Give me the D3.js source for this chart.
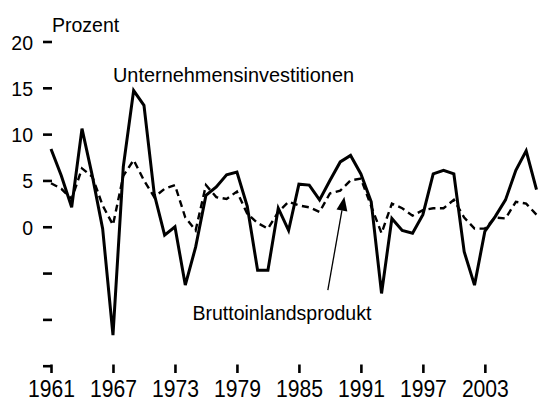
<!DOCTYPE html>
<html>
<head>
<meta charset="utf-8">
<script src="https://cdn.jsdelivr.net/npm/d3@7"></script>
<style>
  html, body { margin: 0; padding: 0; background: #fff; }
  svg { display: block; }
</style>
</head>
<body>
<svg id="chart" width="539" height="401"></svg>
<script>
const years = d3.range(1961, 2009);
const investment = [8.4, 5.5, 2.1, 10.6, 5.5, -0.2, -11.7, 6.5, 14.7, 13.1,
  3.5, -0.9, 0.0, -6.3, -2.2, 3.4, 4.3, 5.6, 5.9, 2.2,
  -4.7, -4.7, 2.0, -0.4, 4.6, 4.5, 2.9, 5.0, 7.0, 7.7,
  5.7, 2.7, -7.2, 0.9, -0.4, -0.7, 1.3, 5.7, 6.1, 5.7,
  -2.7, -6.3, -0.5, 1.1, 2.9, 6.1, 8.2, 4.0];
const gdp = [4.7, 4.1, 3.0, 6.3, 5.4, 2.3, 0.2, 5.5, 7.2, 5.0,
  3.2, 4.1, 4.5, 1.0, -0.4, 4.5, 3.2, 3.0, 3.8, 1.4,
  0.4, -0.2, 1.6, 2.7, 2.3, 2.1, 1.6, 3.6, 3.9, 5.0,
  5.2, 2.2, -0.7, 2.5, 2.0, 1.2, 1.8, 2.0, 2.0, 2.9,
  1.0, -0.2, -0.2, 1.0, 0.9, 2.7, 2.5, 1.3];
const xTickYears = [1961, 1967, 1973, 1979, 1985, 1991, 1997, 2003];
const yTickValues = [-15, -10, -5, 0, 5, 10, 15, 20];
const yTickLabels = ["", "", "", "0", "5", "10", "15", "20"];
const unitLabel = "Prozent";
const seriesLabels = ["Unternehmensinvestitionen", "Bruttoinlandsprodukt"];

const svg = d3.select("#chart");
const x = d3.scaleLinear().domain([1961, 2008]).range([51, 536.5]);
const y = d3.scaleLinear().domain([-15, 20]).range([365.7, 41.5]);

// Y axis (ticks only, no domain line)
const yAxis = svg.append("g")
  .attr("transform", "translate(52,0)")
  .call(d3.axisLeft(y).tickValues(yTickValues).tickSize(9).tickPadding(10)
    .tickFormat((d, i) => yTickLabels[i]));
yAxis.select(".domain").remove();
yAxis.selectAll(".tick line").attr("stroke", "#000").attr("stroke-width", 2.6);
yAxis.selectAll(".tick text")
  .attr("fill", "#000")
  .attr("dy", null).attr("y", 7.5)
  .style("font-family", "'Liberation Sans', Arial, sans-serif")
  .style("font-size", "19.5px");

// X axis (ticks only)
const xAxis = svg.append("g")
  .attr("transform", "translate(0,364.5)")
  .call(d3.axisBottom(x).tickValues(xTickYears).tickSize(8.5).tickFormat(d3.format("d")));
xAxis.select(".domain").remove();
xAxis.selectAll(".tick line").attr("stroke", "#000").attr("stroke-width", 2.6);
xAxis.selectAll(".tick text")
  .attr("fill", "#000")
  .attr("dy", null).attr("y", 32.5)
  .attr("transform", "scale(0.88,1)")
  .style("font-family", "'Liberation Sans', Arial, sans-serif")
  .style("font-size", "24px");

const line = d3.line().x(d => x(d[0])).y(d => y(d[1]));

svg.append("path")
  .datum(years.map((yr, i) => [yr, gdp[i]]))
  .attr("fill", "none").attr("stroke", "#000")
  .attr("stroke-width", 2.4).attr("stroke-dasharray", "7,4.5")
  .attr("d", line);

svg.append("path")
  .datum(years.map((yr, i) => [yr, investment[i]]))
  .attr("fill", "none").attr("stroke", "#000")
  .attr("stroke-width", 3).attr("stroke-linejoin", "miter")
  .attr("d", line);

const textStyle = (sel, size) => sel
  .attr("fill", "#000")
  .style("font-family", "'Liberation Sans', Arial, sans-serif")
  .style("font-size", size + "px");

svg.append("text").attr("x", 52).attr("y", 32).text(unitLabel).call(textStyle, 19.5);
svg.append("text").attr("x", 113).attr("y", 81.5).text(seriesLabels[0]).call(textStyle, 19.9);
svg.append("text").attr("x", 192.5).attr("y", 320).text(seriesLabels[1]).call(textStyle, 19.5);

// Arrow pointing to GDP line (in data units)
const arrowTail = [1987.8, -6.85];
const arrowTip = [1989.4, 3.25];
const x1 = x(arrowTail[0]), y1 = y(arrowTail[1]);
const x2 = x(arrowTip[0]), y2 = y(arrowTip[1]);
const ang = Math.atan2(y2 - y1, x2 - x1);
const headLen = 14, headHalf = 5.5;
const bx = x2 - headLen * Math.cos(ang), by = y2 - headLen * Math.sin(ang);
svg.append("line")
  .attr("x1", x1).attr("y1", y1).attr("x2", bx).attr("y2", by)
  .attr("stroke", "#000").attr("stroke-width", 1.3);
svg.append("path")
  .attr("d", d3.line()([
    [x2, y2],
    [bx + headHalf * Math.sin(ang), by - headHalf * Math.cos(ang)],
    [bx - headHalf * Math.sin(ang), by + headHalf * Math.cos(ang)]
  ]) + "Z")
  .attr("fill", "#000");
</script>
</body>
</html>
